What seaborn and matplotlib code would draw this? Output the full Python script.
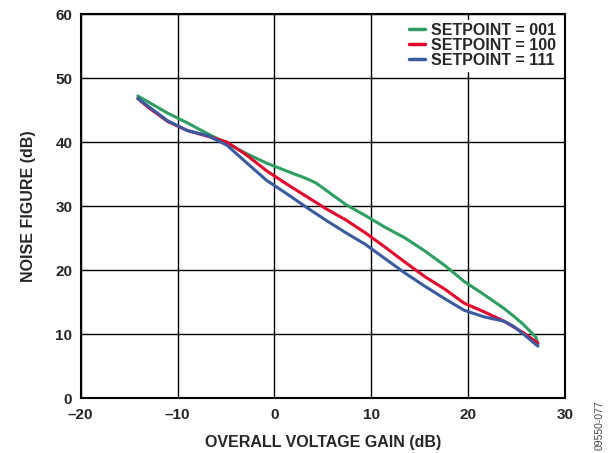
import matplotlib
matplotlib.use("Agg")
import matplotlib.pyplot as plt
import pandas as pd
import seaborn as sns

# values (gain in dB, noise figure in dB)
gain_001 = [-14.1, -11.0, -9.0, -6.9, -4.9, -2.9, -0.8, 1.2, 3.3, 4.3, 5.3, 7.4, 9.4, 11.4,
            13.5, 15.5, 17.6, 19.6, 21.6, 23.7, 24.7, 25.7, 27.0, 27.2]
nf_001 = [47.2, 44.5, 43.0, 41.3, 39.8, 38.2, 36.7, 35.5, 34.3, 33.6, 32.5, 30.2, 28.5, 26.7,
          25.0, 23.0, 20.7, 18.2, 16.2, 14.0, 12.8, 11.5, 9.5, 8.4]

gain_100 = [-14.1, -13.1, -11.0, -9.0, -6.9, -4.9, -2.9, -0.8, 1.2, 3.3, 5.3, 7.4, 9.4, 11.4,
            13.5, 15.5, 17.6, 19.6, 21.6, 23.7, 25.7, 27.2]
nf_100 = [46.8, 45.5, 43.2, 41.8, 40.9, 40.0, 38.0, 35.5, 33.5, 31.5, 29.6, 27.8, 25.8, 23.6,
          21.2, 19.0, 17.0, 14.8, 13.5, 12.0, 10.2, 8.6]

gain_111 = [-14.1, -11.0, -9.0, -6.9, -4.9, -2.9, -0.8, 1.2, 3.3, 5.3, 7.4, 9.4, 11.4, 13.5,
            15.5, 17.6, 19.6, 21.6, 23.7, 24.7, 25.7, 27.2]
nf_111 = [46.8, 43.3, 41.8, 41.0, 39.5, 36.8, 34.0, 32.0, 29.8, 27.8, 25.8, 24.0, 21.8, 19.5,
          17.5, 15.5, 13.7, 12.7, 12.0, 11.2, 10.0, 8.1]

labels = ["SETPOINT = 001", "SETPOINT = 100", "SETPOINT = 111"]
colors = ["#2e9e62", "#e2062c", "#3a5ba0"]
x_ticks = [-20, -10, 0, 10, 20, 30]
y_ticks = [0, 10, 20, 30, 40, 50, 60]

frames = []
for label, gains, nfs in zip(labels, [gain_001, gain_100, gain_111], [nf_001, nf_100, nf_111]):
    frames.append(pd.DataFrame({"gain": gains, "nf": nfs, "setpoint": label}))
data = pd.concat(frames, ignore_index=True)

sns.set_style("white")
plt.rcParams["font.family"] = ["Liberation Sans", "DejaVu Sans"]
plt.rcParams["font.weight"] = "bold"

fig = plt.figure(figsize=(6.14, 4.53), dpi=100)
ax = fig.add_axes([0.1314, 0.1214, 0.7888, 0.8476])

sns.lineplot(
    data=data, x="gain", y="nf", hue="setpoint", hue_order=labels,
    palette=colors, linewidth=2.2, sort=False, estimator=None, ax=ax,
)

ax.set_xlim(-20, 30)
ax.set_ylim(0, 60)
ax.set_xticks(x_ticks)
ax.set_yticks(y_ticks)
ax.set_xticklabels([str(v).replace("-", "\u2013") for v in x_ticks],
                   fontsize=11, fontweight="bold")
ax.set_yticklabels([str(v) for v in y_ticks], fontsize=11, fontweight="bold")
ax.tick_params(axis="x", length=0, pad=7)
ax.tick_params(axis="y", length=0, pad=6)
ax.grid(True, color="black", linewidth=1.0)
for spine in ax.spines.values():
    spine.set_color("black")
    spine.set_linewidth(1.5)

ax.set_xlabel("OVERALL VOLTAGE GAIN (dB)", fontsize=11.5, fontweight="bold")
ax.set_ylabel("NOISE FIGURE (dB)", fontsize=11.5, fontweight="bold")
ax.xaxis.set_label_coords(0.5, -0.097)
ax.yaxis.set_label_coords(-0.092, 0.5)

leg = ax.legend(loc="upper right", frameon=True, fancybox=False, framealpha=1,
                edgecolor="white", fontsize=11.5, handlelength=1.0, handletextpad=0.4,
                labelspacing=0.0, borderaxespad=0.35, borderpad=0.2)
for text in leg.get_texts():
    text.set_fontweight("bold")
for line in leg.get_lines():
    line.set_linewidth(2.5)

fig.text(0.976, 0.062, "09550-077", rotation=90, fontsize=7.5, fontweight="normal",
         color="#444444", ha="center", va="center")

fig.savefig("out.png", dpi=100)
